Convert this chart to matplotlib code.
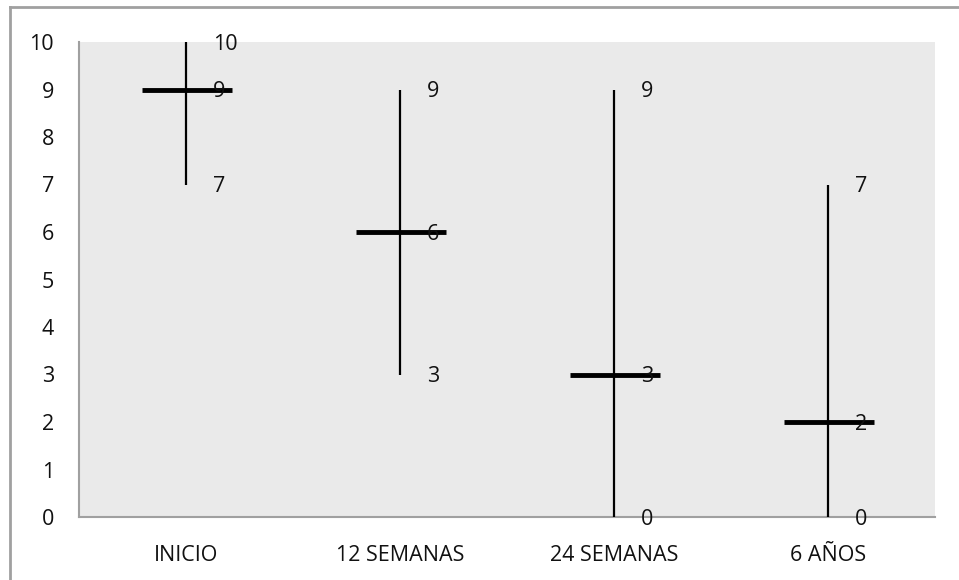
import matplotlib
matplotlib.use("Agg")
import matplotlib.pyplot as plt
from matplotlib.lines import Line2D
import numpy as np

categories = ["INICIO", "12 SEMANAS", "24 SEMANAS", "6 AÑOS"]
high = [10, 9, 9, 7]
low = [7, 3, 0, 0]
median = [9, 6, 3, 2]

plt.rcParams["font.family"] = ["Open Sans", "DejaVu Sans"]

W, H = 959, 580
fig = plt.figure(figsize=(W / 100, H / 100), dpi=100)
# plot area in pixels: left 79, right 935, top 42, bottom 517
ax = fig.add_axes([79 / W, 1 - 517 / H, (935 - 79) / W, (517 - 42) / H])
ax.set_facecolor("#eaeaea")

x = np.arange(len(categories))
ax.vlines(x, low, high, color="black", linewidth=1.6, zorder=3)
ax.hlines(median, x - 0.205, x + 0.215, color="black", linewidth=3.5, zorder=4)

# value labels sit a bit right of each line, slightly below the value
for xi, lo, hi, md in zip(x, low, high, median):
    for v in (hi, lo, md):
        ax.text(xi + 0.125, v - 0.05, str(v), fontsize=15.5, va="center", ha="left",
                color="#111111", zorder=5)

ax.set_xlim(-0.5, len(categories) - 0.5)
ax.set_ylim(0, 10)
ax.set_yticks(range(0, 11))
ax.set_xticks(x)
ax.set_xticklabels(categories)
ax.tick_params(axis="both", length=0, labelsize=15.5, labelcolor="#111111")
ax.tick_params(axis="y", pad=18)
ax.tick_params(axis="x", pad=20)
for side in ("top", "right"):
    ax.spines[side].set_visible(False)
for side in ("left", "bottom"):
    ax.spines[side].set_color("#a0a0a0")
    ax.spines[side].set_linewidth(1.5)

# outer chart border (left and top visible)
fig.add_artist(Line2D([9.5 / W, 9.5 / W], [0, 1 - 7 / H], color="#a0a0a0", linewidth=2))
fig.add_artist(Line2D([9.5 / W, 1], [1 - 7 / H, 1 - 7 / H], color="#a0a0a0", linewidth=2))

fig.savefig("out.png", dpi=100)
